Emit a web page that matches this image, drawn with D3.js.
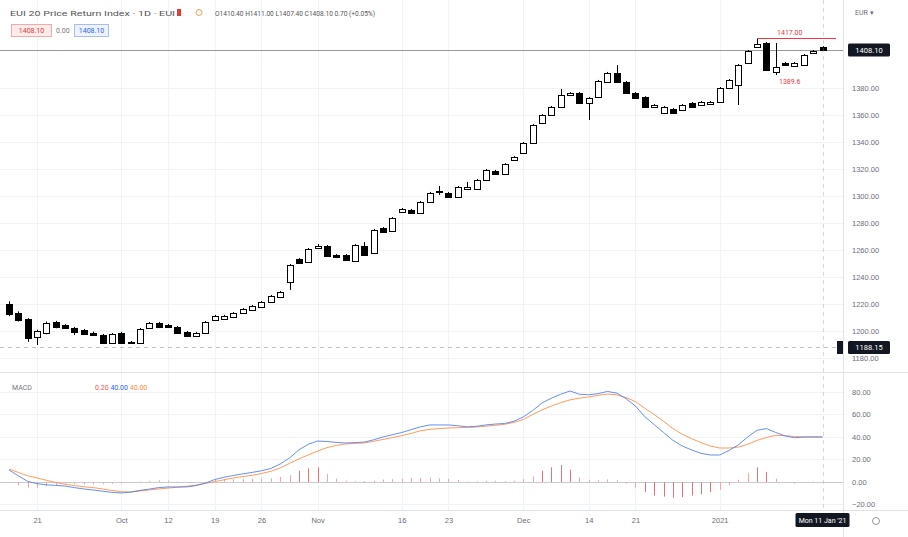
<!DOCTYPE html>
<html><head><meta charset="utf-8">
<script src="https://cdn.jsdelivr.net/npm/d3@7"></script>
<style>
body{margin:0;background:#fff;}
svg{display:block;font-family:Roboto,"Liberation Sans",Arial,sans-serif;}
</style>
</head><body>
<svg id="c" width="908" height="537"></svg>
<script>
// ---- data ----
const opens  = [1220.0,1213.3,1208.9,1195.6,1198.5,1206.7,1204.4,1202.2,1200.7,1198.5,1197.0,1191.1,1198.5,1191.1,1191.1,1202.2,1205.9,1204.4,1203.0,1199.3,1196.3,1198.5,1208.1,1208.9,1210.4,1213.3,1215.6,1217.8,1221.5,1225.2,1236.3,1253.3,1251.1,1261.5,1263.0,1256.3,1256.3,1251.9,1263.0,1257.8,1276.3,1274.1,1288.1,1289.6,1287.4,1295.6,1303.0,1302.2,1299.3,1305.2,1305.2,1311.9,1318.5,1316.3,1326.7,1331.9,1339.3,1354.1,1360.0,1365.9,1374.8,1376.3,1368.9,1373.3,1384.4,1391.1,1384.4,1376.3,1373.3,1365.9,1361.5,1364.4,1363.7,1368.9,1367.4,1368.1,1369.6,1380.0,1382.2,1398.5,1410.4,1413.3,1391.9,1398.5,1396.3,1397.0,1405.9,1410.4];
const highs  = [1222.0,1214.5,1209.5,1201.0,1207.0,1207.5,1205.0,1203.0,1201.5,1199.5,1197.8,1198.5,1199.3,1192.6,1202.2,1206.7,1206.7,1205.2,1203.7,1200.0,1199.3,1207.4,1211.9,1211.9,1214.0,1217.0,1219.3,1222.2,1226.7,1229.6,1249.6,1254.0,1261.5,1264.4,1263.7,1257.0,1257.0,1264.4,1265.9,1275.6,1277.0,1284.4,1291.1,1290.4,1296.3,1303.0,1307.4,1303.0,1307.4,1310.4,1312.6,1320.0,1319.3,1324.4,1329.6,1340.0,1353.3,1360.7,1366.7,1379.3,1377.0,1377.0,1373.3,1386.0,1391.9,1397.0,1385.2,1377.0,1374.0,1368.1,1366.7,1365.2,1368.1,1369.6,1370.4,1370.4,1380.7,1386.7,1397.8,1408.1,1417.0,1414.0,1413.3,1399.3,1399.3,1405.2,1408.1,1411.0];
const lows   = [1211.0,1207.0,1192.0,1189.6,1197.5,1202.0,1201.5,1197.0,1197.0,1196.3,1190.4,1190.4,1190.4,1190.4,1190.4,1201.5,1202.2,1202.2,1197.8,1195.6,1195.6,1197.8,1207.4,1208.1,1209.6,1212.6,1214.8,1217.0,1220.7,1224.4,1230.4,1249.6,1250.4,1260.7,1254.8,1254.0,1251.9,1251.1,1255.6,1257.0,1272.6,1273.3,1287.4,1286.7,1286.7,1294.8,1300.7,1298.5,1298.5,1304.4,1304.4,1311.1,1315.6,1315.6,1326.0,1331.1,1338.5,1353.3,1359.3,1365.2,1374.0,1368.1,1356.3,1372.6,1383.7,1383.7,1375.6,1371.9,1365.2,1365.2,1360.7,1360.7,1363.0,1365.2,1366.7,1367.4,1368.9,1379.3,1367.4,1397.8,1409.6,1392.6,1389.6,1396.3,1395.6,1396.3,1405.2,1407.4];
const closes = [1212.6,1208.1,1194.8,1200.0,1205.9,1203.0,1202.2,1199.3,1197.8,1197.0,1191.1,1197.8,1191.1,1191.9,1201.5,1205.9,1203.0,1203.0,1198.5,1196.3,1198.5,1206.7,1211.1,1211.1,1213.3,1216.3,1218.5,1221.5,1225.9,1228.9,1248.9,1250.4,1260.7,1263.0,1255.6,1254.8,1252.6,1263.7,1256.3,1274.8,1273.3,1283.7,1290.4,1287.4,1295.6,1302.2,1303.7,1299.3,1306.7,1306.7,1311.9,1319.3,1316.3,1323.7,1328.9,1339.3,1352.6,1360.0,1365.9,1374.8,1376.3,1368.9,1372.6,1385.2,1391.1,1384.4,1376.3,1372.6,1365.9,1367.4,1365.9,1361.5,1367.4,1365.9,1369.6,1369.6,1380.0,1385.9,1397.0,1407.4,1412.6,1393.3,1395.6,1397.0,1398.5,1404.4,1407.4,1408.1];

const macdLine   = [10.7,5.5,0.5,-1.5,-2.5,-3,-3.6,-5,-6.2,-7.1,-8.2,-9.2,-9.8,-9,-7.5,-6.3,-5,-4.4,-4.4,-4.4,-3.2,-1,2.2,4.2,5.8,7.2,8.5,10,12,16,21.3,28.5,33.5,36.4,36,35.2,34.7,35,35.5,37.5,40,42,44,46.5,49,50.7,50.7,50.7,50,49,49.5,50.7,51.5,52,54,57.8,63.5,70.2,74.5,78,80.9,78,77.5,78.5,80.5,79,74,67.5,58,51,44,37,32,28.5,25.5,24,24,28,33,40,46,47.5,44,41,39.3,40,40,40];
const signalLine = [11.5,8.5,5.5,3.6,1.5,-0.5,-2,-3.2,-4.2,-5,-6.2,-7.5,-8.6,-8.9,-8,-7.1,-6.2,-5.4,-4.7,-3.8,-2.8,-1.2,0.3,2,3.6,4.8,6,7.5,9.5,12.5,16.5,20.5,24,27.5,30.5,32.5,33.8,34.3,34.7,36.2,37.8,39.5,41.2,43.2,45.5,46.8,47.5,48,48.3,48.6,48.9,49.6,50.4,51.3,53,55.5,60,64,67.5,70.5,73,74.5,75.6,77,78.2,77.5,75,71.5,65.5,60,54,47.5,42.5,38.5,35,32,30.2,30.2,31,33.5,37,39.5,41.5,41.2,40.4,40,40,40];
const histogram  = [-0.8,-3,-5,-5.1,-4,-2.5,-1.6,-1.8,-2,-2.1,-2,-1.7,-1.2,-0.1,0.5,0.8,1.5,1.2,0.3,-0.6,-0.4,0.2,2,2.5,2.5,2.8,3,3,3.2,4.5,6,10,12,13,7,3,1,0.7,0.8,1.3,2.2,2.5,2.8,3.3,3.5,4,3.2,2.7,1.7,0.4,0.6,1.1,1.1,0.7,1,2.5,5,10,13,15,11,4,2,1.5,2.3,1.5,-1.5,-5,-9,-12,-13,-14,-13.5,-12,-11,-9,-7,-3,2,8,13,9,3,-0.5,-1.5,0,0.3,0.2];

const timeTickIdx    = [3,12,17,22,27,33,42,47,55,62,67,76];
const timeTickLabels = ["21","Oct","12","19","26","Nov","16","23","Dec","14","21","2021"];
const priceTicks = [1380,1360,1340,1320,1300,1280,1260,1240,1220,1200,1180];
const macdTicks  = [80,60,40,20,0,-20];
const crosshairIdx = 87;
const crosshairPrice = 1188.15;
const crosshairDate = "Mon 11 Jan '21";

// ---- layout ----
const svg = d3.select('#c');
const PR = 843;          // right edge of panes / price scale border
const mainBottom = 372, macdTop = 374, macdBottom = 510;
const n = closes.length;

const x  = d3.scaleLinear().domain([0, n - 1]).range([9, 822.5]);
const y  = d3.scaleLinear().domain([1171.1, 1445.2]).range([370, 0]);
const ym = d3.scaleLinear().domain([-24.9, 96]).range([macdBottom, macdTop]);

const defs = svg.append('defs');
defs.append('clipPath').attr('id','cm').append('rect').attr('x',0).attr('y',0).attr('width',PR).attr('height',mainBottom);
defs.append('clipPath').attr('id','cd').append('rect').attr('x',0).attr('y',macdTop).attr('width',PR).attr('height',macdBottom-macdTop);

// grid
const grid = svg.append('g').attr('stroke','#f0f3fa').attr('stroke-width',1);
grid.selectAll('.vg').data(timeTickIdx).join('line')
  .attr('x1',d=>Math.round(x(d))+0.5).attr('x2',d=>Math.round(x(d))+0.5)
  .attr('y1',0).attr('y2',macdBottom);
grid.selectAll('.hg').data(priceTicks).join('line')
  .attr('x1',0).attr('x2',PR).attr('y1',d=>Math.round(y(d))+0.5).attr('y2',d=>Math.round(y(d))+0.5);
grid.selectAll('.mg').data(macdTicks).join('line')
  .attr('x1',0).attr('x2',PR).attr('y1',d=>Math.round(ym(d))+0.5).attr('y2',d=>Math.round(ym(d))+0.5);

// separators
svg.append('line').attr('x1',0).attr('x2',908).attr('y1',mainBottom+0.5).attr('y2',mainBottom+0.5).attr('stroke','#e0e3eb');
svg.append('line').attr('x1',0).attr('x2',908).attr('y1',macdBottom+0.5).attr('y2',macdBottom+0.5).attr('stroke','#e0e3eb');
svg.append('line').attr('x1',PR+0.5).attr('x2',PR+0.5).attr('y1',0).attr('y2',537).attr('stroke','#e0e3eb');

// ---- main pane ----
const main = svg.append('g').attr('clip-path','url(#cm)');
const lastY = Math.round(y(closes[n-1])) + 0.5;
main.append('line').attr('x1',0).attr('x2',PR).attr('y1',lastY).attr('y2',lastY).attr('stroke','#9598a1').attr('stroke-width',1);

// crosshair
const chY = Math.round(y(crosshairPrice)) + 0.5;
svg.append('line').attr('x1',0).attr('x2',PR).attr('y1',chY).attr('y2',chY)
  .attr('stroke','#9598a1').attr('stroke-dasharray','4,4').attr('opacity',0.6);
svg.append('line').attr('x1',Math.round(x(crosshairIdx))+0.5).attr('x2',Math.round(x(crosshairIdx))+0.5)
  .attr('y1',0).attr('y2',macdBottom).attr('stroke','#9598a1').attr('stroke-dasharray','4,4').attr('opacity',0.35);

const idx = d3.range(n);
const cg = main.append('g');
cg.selectAll('.wick').data(idx).join('line')
  .attr('x1',i=>Math.round(x(i))+0.5).attr('x2',i=>Math.round(x(i))+0.5)
  .attr('y1',i=>y(highs[i])).attr('y2',i=>y(lows[i]))
  .attr('stroke','#000').attr('stroke-width',1);
cg.selectAll('.body').data(idx).join('rect')
  .attr('x',i=>Math.round(x(i))-2.5)
  .attr('width',6)
  .attr('y',i=>Math.round(y(Math.max(opens[i],closes[i])))+0.5)
  .attr('height',i=>Math.max(1, Math.round(Math.abs(y(opens[i])-y(closes[i])))))
  .attr('fill',i=>closes[i]>=opens[i]?'#fff':'#000')
  .attr('stroke','#000').attr('stroke-width',1);

// high marker line and labels
const hiIdx = 80, loIdx = 82;
const hy = Math.round(y(highs[hiIdx])) + 0.5;
svg.append('line').attr('x1',x(hiIdx)).attr('x2',PR-7).attr('y1',hy).attr('y2',hy).attr('stroke','#f23645').attr('stroke-width',1);
svg.append('text').attr('x',x(83.5)).attr('y',hy-4).attr('text-anchor','middle')
  .attr('font-size',7).attr('fill','#f23645').text(highs[hiIdx].toFixed(2));
svg.append('text').attr('x',x(83.5)).attr('y',y(lows[loIdx])+9).attr('text-anchor','middle')
  .attr('font-size',7).attr('fill','#f23645').text(lows[loIdx].toFixed(1));

// ---- MACD pane ----
const md = svg.append('g').attr('clip-path','url(#cd)');
md.append('line').attr('x1',0).attr('x2',PR).attr('y1',Math.round(ym(0))+0.5).attr('y2',Math.round(ym(0))+0.5)
  .attr('stroke','#c9cbd1').attr('stroke-width',1);
md.selectAll('.hb').data(idx).join('line')
  .attr('x1',i=>Math.round(x(i))+0.5).attr('x2',i=>Math.round(x(i))+0.5)
  .attr('y1',ym(0)).attr('y2',i=>ym(histogram[i]))
  .attr('stroke',i=>Math.abs(histogram[i])>8?'#e57373':'#f2a7a7').attr('stroke-width',1);
const lineGen = arr => d3.line().x((d,i)=>x(i)).y(d=>ym(d)).curve(d3.curveLinear)(arr);
md.append('path').attr('d',lineGen(signalLine)).attr('fill','none').attr('stroke','#ff8a3d').attr('stroke-width',1).attr('opacity',0.85);
md.append('path').attr('d',lineGen(macdLine)).attr('fill','none').attr('stroke','#4a7bf0').attr('stroke-width',1).attr('opacity',0.85);

// ---- axes ----
const axisText = g => g.selectAll('text').attr('fill','#6a6d78').attr('font-size',7.5);
const pAxis = svg.append('g').attr('transform',`translate(${PR+7},0)`)
  .call(d3.axisRight(y).tickValues(priceTicks).tickFormat(d3.format('.2f')).tickSize(0).tickPadding(2));
pAxis.select('.domain').remove(); axisText(pAxis);
const mAxis = svg.append('g').attr('transform',`translate(${PR+7},0)`)
  .call(d3.axisRight(ym).tickValues(macdTicks).tickFormat(d3.format('.2f')).tickSize(0).tickPadding(2));
mAxis.select('.domain').remove(); axisText(mAxis);
const tAxis = svg.append('g').attr('transform',`translate(0,${macdBottom+5})`)
  .call(d3.axisBottom(x).tickValues(timeTickIdx).tickFormat((d,i)=>timeTickLabels[i]).tickSize(0).tickPadding(3));
tAxis.select('.domain').remove(); axisText(tAxis);

// last price label
const lab = (cx, cy, w, txt) => {
  svg.append('rect').attr('x',cx).attr('y',cy-6.5).attr('width',w).attr('height',13).attr('rx',1.5).attr('fill','#131722');
  svg.append('text').attr('x',cx+w/2).attr('y',cy+2.8).attr('text-anchor','middle').attr('font-size',7.5).attr('fill','#fff').text(txt);
};
lab(PR+5, y(closes[n-1]), 42, closes[n-1].toFixed(2));
lab(PR+5, chY, 42, crosshairPrice.toFixed(2));
svg.append('rect').attr('x',PR-6).attr('y',chY-6.5).attr('width',6).attr('height',13).attr('fill','#131722');
// date crosshair label
svg.append('rect').attr('x',x(crosshairIdx)-27).attr('y',macdBottom+3).attr('width',54).attr('height',14).attr('rx',1.5).attr('fill','#131722');
svg.append('text').attr('x',x(crosshairIdx)).attr('y',macdBottom+13).attr('text-anchor','middle').attr('font-size',7).attr('fill','#fff').text(crosshairDate);
// settings icon
svg.append('circle').attr('cx',876).attr('cy',521).attr('r',3.5).attr('fill','none').attr('stroke','#9598a1');
// currency
svg.append('text').attr('x',855).attr('y',15).attr('font-size',7).attr('fill','#6a6d78').text('EUR ▾');

// ---- legends ----
svg.append('text').attr('x',10).attr('y',16).attr('font-size',8).attr('fill','#555').attr('textLength',165).attr('lengthAdjust','spacingAndGlyphs')
  .text('EUI 20 Price Return Index · 1D · EUI');
svg.append('rect').attr('x',177).attr('y',9).attr('width',4).attr('height',7).attr('fill','#e53935');
svg.append('circle').attr('cx',199).attr('cy',12.5).attr('r',3).attr('fill','none').attr('stroke','#f6a04d');
svg.append('text').attr('x',215).attr('y',16).attr('font-size',7.5).attr('fill','#555').attr('textLength',160).attr('lengthAdjust','spacingAndGlyphs')
  .text(`O${opens[n-1].toFixed(2)} H${highs[n-1].toFixed(2)} L${lows[n-1].toFixed(2)} C${closes[n-1].toFixed(2)} ${(closes[n-1]-closes[n-2]).toFixed(2)} (+0.05%)`);
svg.append('rect').attr('x',11.5).attr('y',24.5).attr('width',40).attr('height',12).attr('fill','#fdeaea').attr('stroke','#f4a9a9');
svg.append('text').attr('x',31.5).attr('y',33).attr('text-anchor','middle').attr('font-size',7).attr('fill','#e53935').text(closes[n-1].toFixed(2));
svg.append('text').attr('x',56).attr('y',33).attr('font-size',7).attr('fill','#777').text('0.00');
svg.append('rect').attr('x',74.5).attr('y',24.5).attr('width',34).attr('height',12).attr('fill','#eef2fd').attr('stroke','#a9bdf2');
svg.append('text').attr('x',91.5).attr('y',33).attr('text-anchor','middle').attr('font-size',7).attr('fill','#2962ff').text(closes[n-1].toFixed(2));

svg.append('text').attr('x',12).attr('y',390).attr('font-size',7).attr('fill','#777').text('MACD');
const ml = svg.append('text').attr('x',95).attr('y',390).attr('font-size',7);
ml.append('tspan').attr('fill','#ef5350').text(histogram[n-1].toFixed(2)+'  ');
ml.append('tspan').attr('fill','#2962ff').text(macdLine[n-1].toFixed(2)+'  ');
ml.append('tspan').attr('fill','#ff8a3d').text(signalLine[n-1].toFixed(2));
</script>
</body></html>
